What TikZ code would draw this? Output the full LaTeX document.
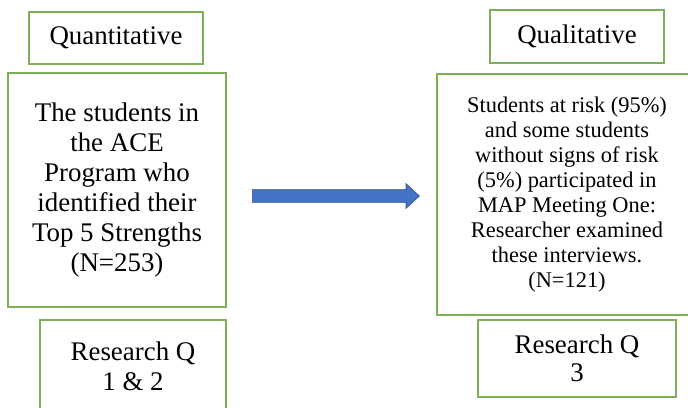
\documentclass[tikz,border=0pt]{standalone}
\usepackage{fontspec}
\setmainfont{Liberation Serif}
\usetikzlibrary{shapes.arrows}
\definecolor{boxgreen}{RGB}{125,176,86}
\definecolor{arrowblue}{RGB}{68,114,196}
\definecolor{arrowedge}{RGB}{47,82,143}
\begin{document}
\begin{tikzpicture}[x=1pt,y=-1pt,
  box/.style={draw=boxgreen, line width=1.4pt, fill=white, rectangle, inner sep=0pt, align=center},
  bigtext/.style={font=\fontsize{26.9}{30}\selectfont},
  smalltext/.style={font=\fontsize{22.4}{25}\selectfont},
  rqtext/.style={font=\fontsize{26.9}{28}\selectfont},
  blockarrow/.style={single arrow, fill=arrowblue, draw=arrowedge, line width=0.6pt,
    minimum height=167pt, minimum width=24pt, single arrow head extend=6pt,
    single arrow tip angle=85, inner xsep=0pt, inner ysep=6pt}]
\useasboundingbox (0,0) rectangle (688,407);
\clip (0,0) rectangle (688,407);
\fill[white] (0,0) rectangle (688,407);
% left column
\node[box, bigtext, minimum width=174pt, minimum height=52pt] (quant) at (116,38) {Quantitative};
\node[box, bigtext, minimum width=218pt, minimum height=234pt] (leftmain) at (117,190)
  {The students in\\the ACE\\Program who\\identified their\\Top 5 Strengths\\(N=253)};
\node[box, bigtext, minimum width=186pt, minimum height=92pt] (rqleft) at (133,366)
  {Research Q\\1 \& 2};
% right column
\node[box, bigtext, minimum width=174pt, minimum height=53pt] (qual) at (577,36.5) {Qualitative};
\node[box, smalltext, minimum width=260pt, minimum height=241pt] (rightmain) at (567,194.5)
  {Students at risk (95\%)\\and some students\\without signs of risk\\(5\%) participated in\\MAP Meeting One:\\Researcher examined\\these interviews.\\(N=121)};
\node[box, rqtext, minimum width=198pt, minimum height=77pt] (rqright) at (577,358.5)
  {Research Q\\3};
% arrow
\node[blockarrow] (arr) at (332.5,196) {};
\end{tikzpicture}
\end{document}
